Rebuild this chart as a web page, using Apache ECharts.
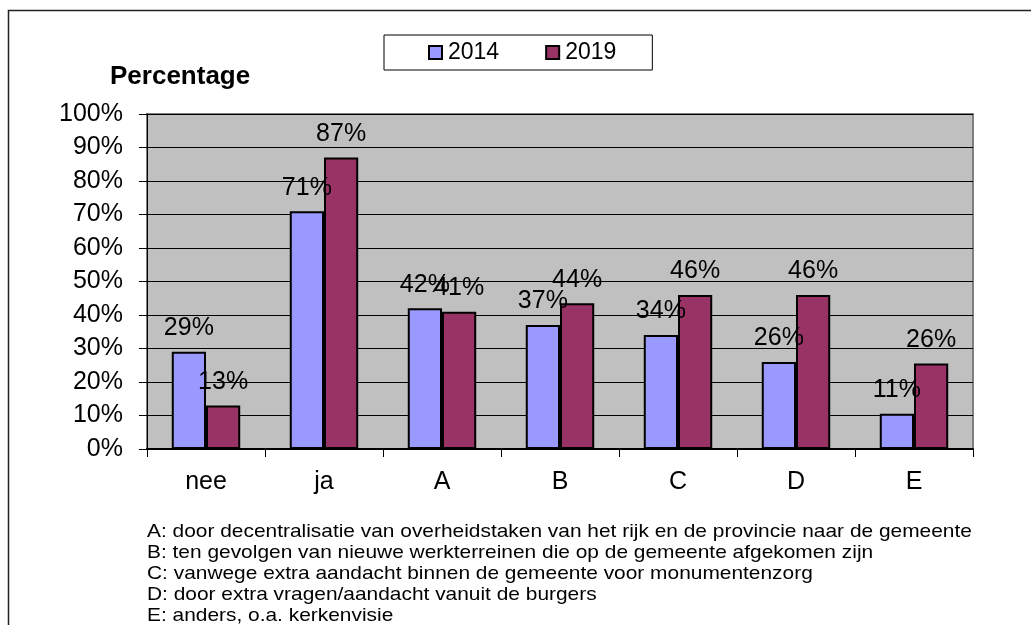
<!DOCTYPE html>
<html>
<head>
<meta charset="utf-8">
<script src="https://cdn.jsdelivr.net/npm/echarts@6/dist/echarts.min.js"></script>
<style>
  html, body { margin: 0; padding: 0; background: #fff; }
  #chart { width: 1031px; height: 625px; }
</style>
</head>
<body>
<div id="chart"></div>
<script>
// gegevens
var categories = ['nee', 'ja', 'A', 'B', 'C', 'D', 'E'];
var values2014 = [29, 71, 42, 37, 34, 26, 10.5];
var values2019 = [13, 87, 41, 43.5, 46, 46, 25.5];
var yTicks = [0, 10, 20, 30, 40, 50, 60, 70, 80, 90, 100];
var notes = [
  'A: door decentralisatie van overheidstaken van het rijk en de provincie naar de gemeente',
  'B: ten gevolgen van nieuwe werkterreinen die op de gemeente afgekomen zijn',
  'C: vanwege extra aandacht binnen de gemeente voor monumentenzorg',
  'D: door extra vragen/aandacht vanuit de burgers',
  'E: anders, o.a. kerkenvisie'
];

var font = 'Arial, "Liberation Sans", sans-serif';
var chart = echarts.init(document.getElementById('chart'));

function labelOpt() {
  return {
    show: true,
    position: 'top',
    distance: 11,
    fontSize: 25,
    fontFamily: font,
    color: '#000',
    formatter: function (p) { return Math.round(p.value) + '%'; }
  };
}

var option = {
  animation: false,
  backgroundColor: '#fff',
  title: {
    text: 'Percentage',
    left: 105,
    top: 59,
    textStyle: { fontSize: 26, fontWeight: 'bold', fontFamily: font, color: '#000' }
  },
  legend: {
    data: ['2014', '2019'],
    left: 384,
    top: 35,
    padding: [6, 36, 6, 44],
    itemGap: 46,
    itemWidth: 13,
    itemHeight: 13,
    itemStyle: { borderColor: '#000', borderWidth: 2 },
    icon: 'rect',
    borderColor: '#000',
    borderWidth: 1,
    textStyle: { fontSize: 23, fontFamily: font, color: '#000', padding: [0, 0, 0, 1] }
  },
  grid: {
    left: 147,
    top: 114,
    right: 58,
    bottom: 176,
    show: true,
    backgroundColor: '#C0C0C0',
    borderColor: '#808080',
    borderWidth: 2
  },
  xAxis: {
    type: 'category',
    data: categories,
    axisLine: { lineStyle: { color: '#000', width: 2 } },
    axisTick: { show: true, length: 8, lineStyle: { color: '#000' } },
    axisLabel: { fontSize: 25, fontFamily: font, color: '#000', margin: 21 }
  },
  yAxis: {
    type: 'value',
    min: yTicks[0],
    max: yTicks[yTicks.length - 1],
    interval: 10,
    axisLine: { show: true, lineStyle: { color: '#000', width: 1 } },
    axisTick: { show: true, length: 8, lineStyle: { color: '#000' } },
    axisLabel: { fontSize: 25, fontFamily: font, color: '#000', margin: 24, formatter: '{value}%' },
    splitLine: { lineStyle: { color: '#000', width: 1 } }
  },
  series: [
    {
      name: '2014',
      type: 'bar',
      data: values2014,
      barGap: '0%',
      barCategoryGap: '42%',
      itemStyle: { color: '#9999FF', borderColor: '#000', borderWidth: 2 },
      label: labelOpt()
    },
    {
      name: '2019',
      type: 'bar',
      data: values2019,
      itemStyle: { color: '#993366', borderColor: '#000', borderWidth: 2 },
      label: labelOpt()
    }
  ],
  graphic: [
    {
      type: 'rect',
      shape: { x: 8.5, y: 10.5, width: 1100, height: 700 },
      style: { fill: 'none', stroke: '#222', lineWidth: 1.5 },
      silent: true
    },
    {
      type: 'text',
      x: 147,
      y: 521,
      scaleX: 1.1,
      style: {
        text: notes.join('\n'),
        fontSize: 19,
        lineHeight: 21,
        fontFamily: font,
        fill: '#000'
      }
    }
  ]
};

chart.setOption(option);
</script>
</body>
</html>
